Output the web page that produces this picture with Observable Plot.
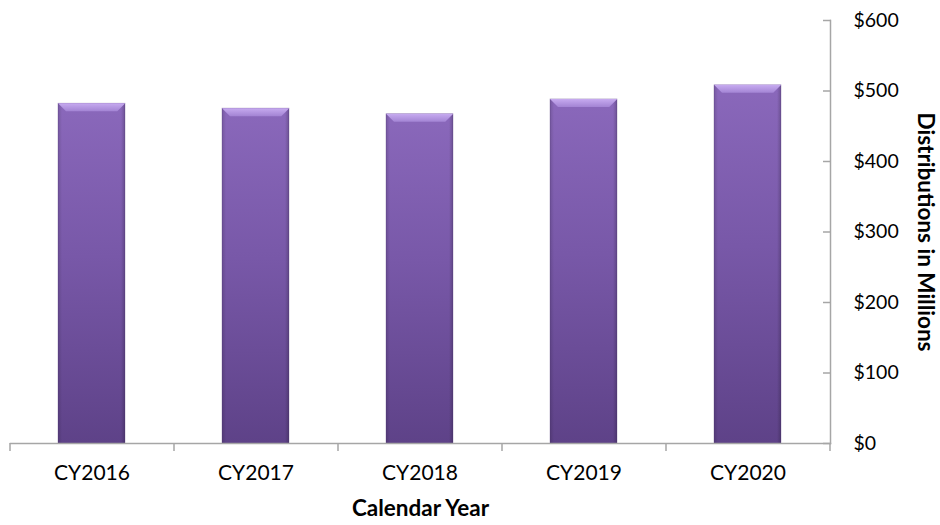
<!DOCTYPE html>
<html>
<head>
<meta charset="utf-8">
<script src="https://cdn.jsdelivr.net/npm/d3@7"></script>
<script src="https://cdn.jsdelivr.net/npm/@observablehq/plot@0.6"></script>
<style>
  html, body { margin: 0; padding: 0; background: #fff; }
  #chart svg { display: block; }
</style>
</head>
<body>
<div id="chart"></div>
<script>
const years = ["CY2016", "CY2017", "CY2018", "CY2019", "CY2020"];
const distributions = [482, 475, 467, 488, 508];
const yTicks = [0, 100, 200, 300, 400, 500, 600];

const data = years.map((y, i) => ({year: y, value: distributions[i]}));

const W = 940, H = 525;
const mL = 10, mR = 110, mT = 20, mB = 82;
const PAD = 0.59;

function gradientDefs() {
  const svgNS = "http://www.w3.org/2000/svg";
  const g = document.createElementNS(svgNS, "g");
  g.innerHTML = `
    <defs>
      <linearGradient id="barGrad" x1="0" y1="0" x2="0" y2="1">
        <stop offset="0" stop-color="#8a68bb"/>
        <stop offset="0.45" stop-color="#7858a8"/>
        <stop offset="1" stop-color="#5e4288"/>
      </linearGradient>
      <linearGradient id="sideGrad" x1="0" y1="0" x2="1" y2="0">
        <stop offset="0" stop-color="#000" stop-opacity="0.14"/>
        <stop offset="0.06" stop-color="#000" stop-opacity="0"/>
        <stop offset="0.94" stop-color="#000" stop-opacity="0"/>
        <stop offset="1" stop-color="#000" stop-opacity="0.2"/>
      </linearGradient>
      <linearGradient id="bevelGrad" x1="0" y1="0" x2="0" y2="1">
        <stop offset="0" stop-color="#c7abf0"/>
        <stop offset="1" stop-color="#a384d4"/>
      </linearGradient>
    </defs>`;
  return g;
}

function bandTicks(index, scales, values, dims) {
  const svgNS = "http://www.w3.org/2000/svg";
  const g = document.createElementNS(svgNS, "g");
  const step = (dims.width - dims.marginLeft - dims.marginRight) / years.length;
  const y0 = dims.height - dims.marginBottom;
  for (let i = 0; i <= years.length; i++) {
    const x = dims.marginLeft + i * step;
    const l = document.createElementNS(svgNS, "line");
    l.setAttribute("x1", x); l.setAttribute("x2", x);
    l.setAttribute("y1", y0); l.setAttribute("y2", y0 + 8);
    l.setAttribute("stroke", "#a6a6a6");
    l.setAttribute("stroke-width", 1.5);
    g.appendChild(l);
  }
  return g;
}

function bevels(index, scales, values, dims) {
  const svgNS = "http://www.w3.org/2000/svg";
  const g = document.createElementNS(svgNS, "g");
  const step = (dims.width - dims.marginLeft - dims.marginRight) / years.length;
  const bw = step * (1 - PAD);
  data.forEach(d => {
    const x0 = scales.x(d.year), top = scales.y(d.value);
    const b = 8;
    const p = document.createElementNS(svgNS, "path");
    p.setAttribute("d", `M${x0},${top}h${bw}l${-b},${b}h${-(bw - 2*b)}z`);
    p.setAttribute("fill", "url(#bevelGrad)");
    g.appendChild(p);
  });
  return g;
}

const chart = Plot.plot({
  width: W,
  height: H,
  marginLeft: mL,
  marginRight: mR,
  marginTop: mT,
  marginBottom: mB,
  style: {fontFamily: "Lato, 'Open Sans', sans-serif", fontSize: "20px", color: "#000", background: "#fff"},
  x: {domain: years, paddingInner: PAD, paddingOuter: PAD / 2, label: null},
  y: {domain: [0, 600], label: null},
  marks: [
    gradientDefs,
    Plot.barY(data, {x: "year", y: "value", fill: "url(#barGrad)", stroke: "#5a4080", strokeWidth: 0.6, strokeOpacity: 0.5}),
    Plot.barY(data, {x: "year", y: "value", fill: "url(#sideGrad)"}),
    bevels,
    Plot.frame({anchor: "bottom", stroke: "#a6a6a6", strokeWidth: 1.5}),
    Plot.frame({anchor: "right", stroke: "#a6a6a6", strokeWidth: 1.5}),
    bandTicks,
    Plot.axisY({anchor: "right", ticks: yTicks, tickSize: -8, tickPadding: 31, stroke: "#a6a6a6", strokeWidth: 1.5,
      tickFormat: d => "$" + d, fontSize: 19.5, label: null}),
    Plot.axisX({anchor: "bottom", tickSize: 0, tickPadding: 22, fontSize: 21, label: null}),
    Plot.text(["Calendar Year"], {frameAnchor: "bottom", dy: 72, text: d => d, fontWeight: "bold", fontSize: 22.5}),
    Plot.text(["Distributions in Millions"], {frameAnchor: "right", dx: 95, rotate: 90, textAnchor: "middle", text: d => d, fontWeight: "bold", fontSize: 22.5})
  ]
});

document.getElementById("chart").appendChild(chart);
</script>
</body>
</html>
